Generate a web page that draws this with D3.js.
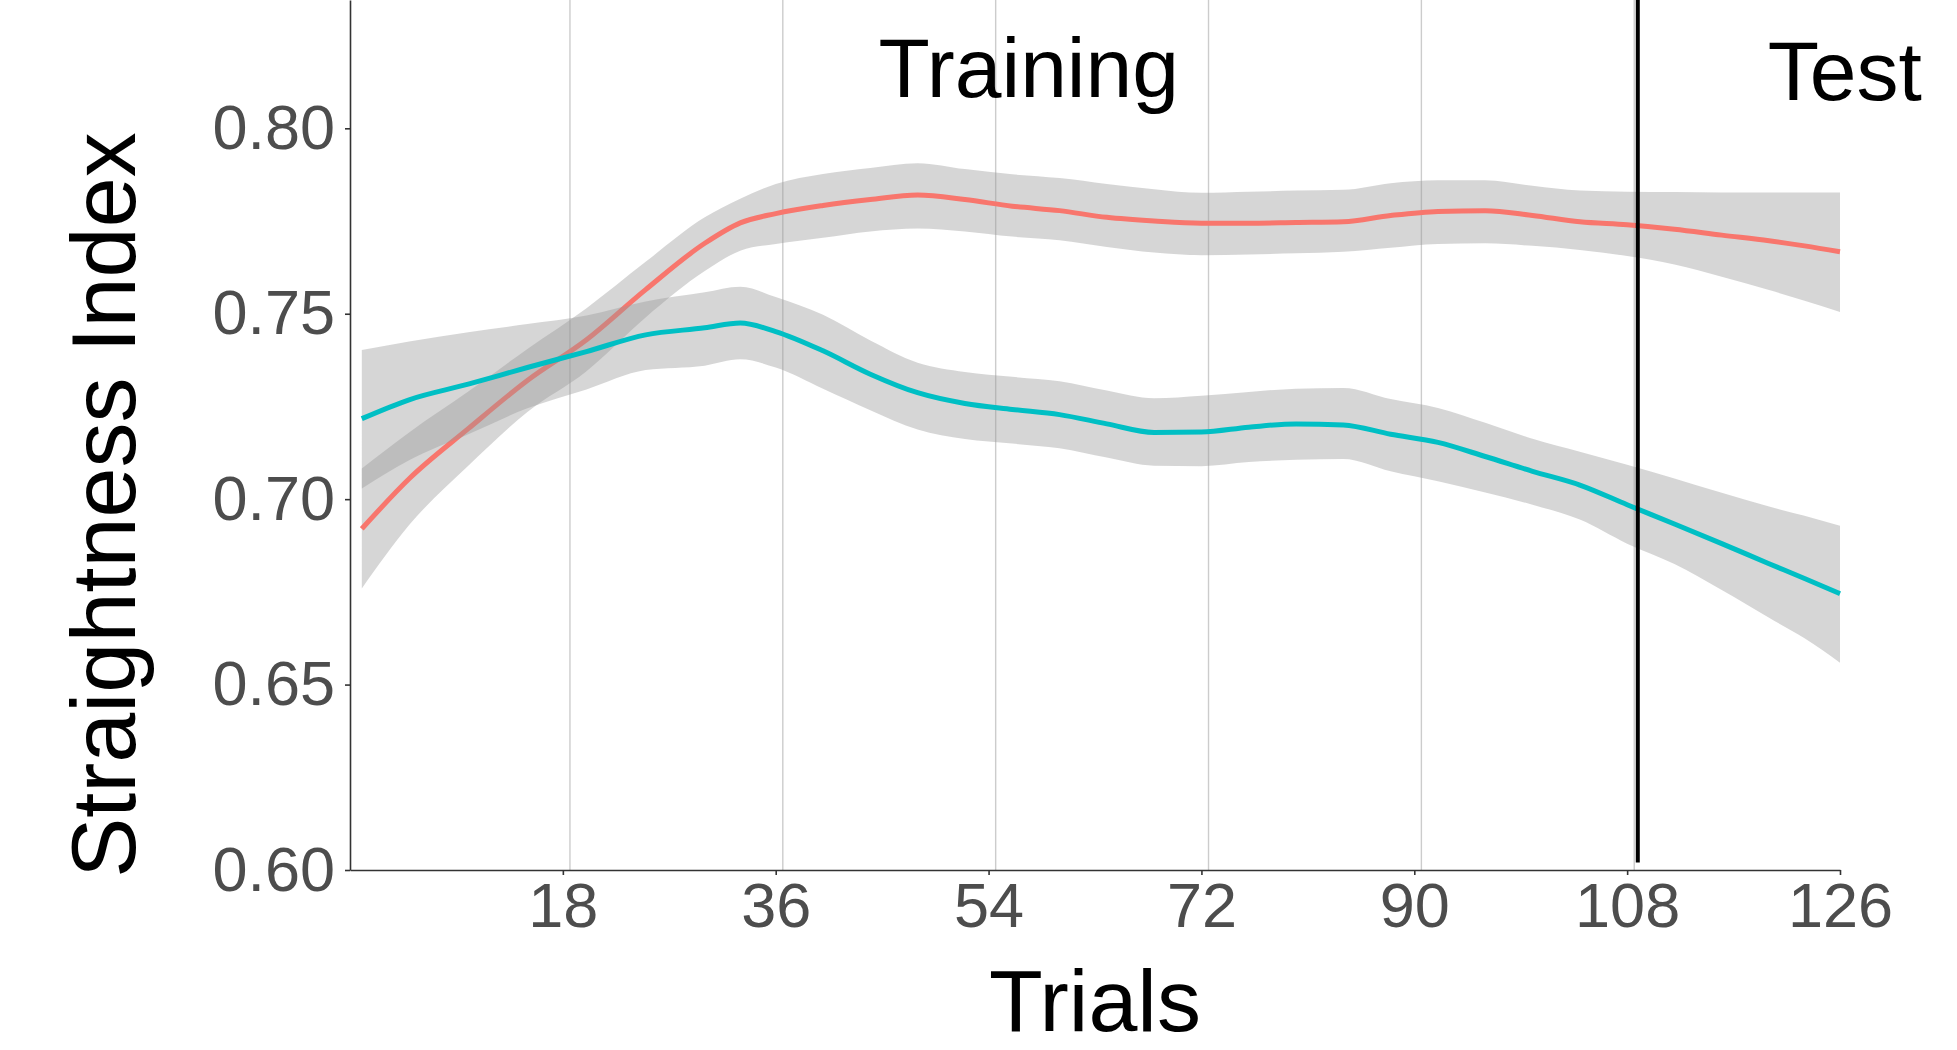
<!DOCTYPE html>
<html lang="en">

<head>
  <meta charset="UTF-8" />
  <script src="https://d3js.org/d3.v7.min.js"></script>
  <title>Straightness Index by Trials</title>
  <style>
    body { margin: 0; background: #fff; }
    text { font-family: "Liberation Sans", Arial, sans-serif; }
  </style>
</head>

<body>
  <svg width="1957" height="1050"></svg>

  <script>
    // Smoothed fits (loess-like) with confidence bands
    const trials = [1, 5, 10, 15, 20, 25, 30, 33, 36, 40, 44, 48, 52, 56, 60, 64,
      68, 72, 76, 80, 84, 88, 92, 96, 100, 104, 108, 112, 116, 120, 123, 126];

    const redFit = [0.692, 0.7055, 0.719, 0.732, 0.743, 0.7565, 0.769, 0.7745, 0.777, 0.7792, 0.7808, 0.782,
      0.7808, 0.779, 0.7778, 0.776, 0.775, 0.7744, 0.7744, 0.7746, 0.7748, 0.7765, 0.7776, 0.7778,
      0.7765, 0.7748, 0.774, 0.7728, 0.7712, 0.7697, 0.7683, 0.7667];
    const redHi = [0.7083, 0.718, 0.729, 0.7405, 0.7515, 0.764, 0.776, 0.781, 0.785, 0.7877, 0.7893, 0.7906,
      0.789, 0.7876, 0.7866, 0.785, 0.7836, 0.7826, 0.7829, 0.7832, 0.7834, 0.7852, 0.786, 0.786,
      0.7845, 0.7832, 0.7829, 0.7828, 0.7827, 0.7827, 0.7827, 0.7827];
    const redLo = [0.6759, 0.693, 0.709, 0.7235, 0.7345, 0.749, 0.7615, 0.767, 0.7688, 0.7705, 0.7722, 0.773,
      0.7722, 0.7708, 0.7698, 0.768, 0.7665, 0.7658, 0.766, 0.7663, 0.7667, 0.7678, 0.7688, 0.769,
      0.7683, 0.7672, 0.7656, 0.7633, 0.76, 0.7564, 0.7535, 0.7505];

    const tealFit = [0.7217, 0.7268, 0.731, 0.7355, 0.7398, 0.7443, 0.7462, 0.7475, 0.7452, 0.74, 0.7337, 0.7287,
      0.7258, 0.7242, 0.7228, 0.7203, 0.718, 0.7181, 0.7194, 0.7203, 0.72, 0.7175, 0.7153, 0.7115,
      0.7075, 0.7038, 0.6985, 0.6933, 0.688, 0.6826, 0.6786, 0.6745];
    const tealHi = [0.7402, 0.7425, 0.745, 0.7472, 0.7495, 0.7533, 0.7558, 0.7573, 0.7545, 0.7497, 0.7428, 0.7368,
      0.7343, 0.733, 0.7318, 0.7293, 0.7272, 0.7279, 0.7289, 0.7298, 0.73, 0.727, 0.7246, 0.7206,
      0.7163, 0.7128, 0.7093, 0.7056, 0.7017, 0.698, 0.6955, 0.6928];
    const tealLo = [0.7029, 0.7105, 0.7175, 0.7245, 0.7296, 0.7348, 0.736, 0.7377, 0.7355, 0.7298, 0.724, 0.7188,
      0.7162, 0.715, 0.7137, 0.7112, 0.709, 0.7089, 0.71, 0.7106, 0.7108, 0.7075, 0.7048, 0.7018,
      0.6985, 0.6945, 0.688, 0.6825, 0.6755, 0.668, 0.6625, 0.6559];

    const xTicks = [18, 36, 54, 72, 90, 108, 126];
    const yTicks = [0.60, 0.65, 0.70, 0.75, 0.80];
    const gridTrials = [18.6, 36.6, 54.6, 72.6, 90.6, 108.6];
    const phaseBreak = 108.9;
    const phaseLabels = [
      { text: "Training", trial: 57.4, value: 0.8084 },
      { text: "Test", trial: 126.4, value: 0.8075 }
    ];

    const svg = d3.select("svg");
    const margin = { top: 0, right: 117, bottom: 180, left: 350 };
    const width = 1957 - margin.left - margin.right;
    const height = 1050 - margin.top - margin.bottom;

    const x = d3.scaleLinear().domain([0, 126]).range([0, width]);
    const y = d3.scaleLinear().domain([0.6, 0.8346]).range([height, 0]);

    const g = svg.append("g")
      .attr("transform", `translate(${margin.left},${margin.top})`);

    // vertical grid lines
    g.selectAll("line.grid")
      .data(gridTrials)
      .enter()
      .append("line")
      .attr("class", "grid")
      .attr("x1", d => x(d)).attr("x2", d => x(d))
      .attr("y1", 0).attr("y2", height)
      .attr("stroke", "#cccccc")
      .attr("stroke-width", 1.4);

    const series = [
      { fit: redFit, lo: redLo, hi: redHi, color: "#F8766D" },
      { fit: tealFit, lo: tealLo, hi: tealHi, color: "#00BFC4" }
    ];

    const area = d3.area()
      .x(d => x(d.t))
      .y0(d => y(d.lo))
      .y1(d => y(d.hi))
      .curve(d3.curveMonotoneX);

    const line = d3.line()
      .x(d => x(d.t))
      .y(d => y(d.fit))
      .curve(d3.curveMonotoneX);

    series.forEach(s => {
      const rows = trials.map((t, i) => ({ t, fit: s.fit[i], lo: s.lo[i], hi: s.hi[i] }));
      g.append("path")
        .datum(rows)
        .attr("d", area)
        .attr("fill", "#999999")
        .attr("fill-opacity", 0.4);
      g.append("path")
        .datum(rows)
        .attr("d", line)
        .attr("fill", "none")
        .attr("stroke", s.color)
        .attr("stroke-width", 5);
    });

    // training / test boundary
    g.append("line")
      .attr("x1", x(phaseBreak)).attr("x2", x(phaseBreak))
      .attr("y1", 0).attr("y2", y(0.602))
      .attr("stroke", "#000")
      .attr("stroke-width", 4);

    // axes
    const xAxis = g.append("g")
      .attr("transform", `translate(0,${height})`)
      .call(d3.axisBottom(x).tickValues(xTicks).tickSize(5).tickPadding(7).tickSizeOuter(0));
    const yAxis = g.append("g")
      .call(d3.axisLeft(y).tickValues(yTicks).tickFormat(d3.format(".2f")).tickSize(5).tickPadding(10).tickSizeOuter(0));

    [xAxis, yAxis].forEach(ax => {
      ax.select(".domain").attr("stroke", "#333").attr("stroke-width", 1.6);
      ax.selectAll(".tick line").attr("stroke", "#333").attr("stroke-width", 1.6);
      ax.selectAll(".tick text")
        .attr("fill", "#4D4D4D")
        .style("font-size", "63px")
        .style("font-family", "'Liberation Sans', Arial, sans-serif");
    });

    // axis titles
    svg.append("text")
      .attr("x", margin.left + width / 2)
      .attr("y", 1031)
      .attr("text-anchor", "middle")
      .style("font-size", "88px")
      .text("Trials");

    svg.append("text")
      .attr("transform", `translate(135,${505}) rotate(-90)`)
      .attr("text-anchor", "middle")
      .style("font-size", "90px")
      .text("Straightness Index");

    // phase labels
    g.selectAll("text.phase")
      .data(phaseLabels)
      .enter()
      .append("text")
      .attr("class", "phase")
      .attr("x", d => x(d.trial))
      .attr("y", d => y(d.value))
      .attr("text-anchor", "middle")
      .style("font-size", "84px")
      .text(d => d.text);
  </script>
</body>

</html>
